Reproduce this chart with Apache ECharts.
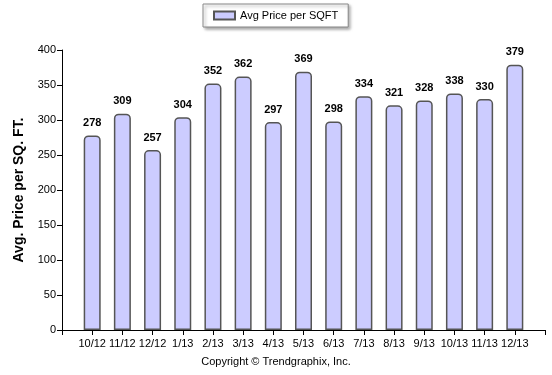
<!DOCTYPE html>
<html><head><meta charset="utf-8">
<script src="https://cdn.jsdelivr.net/npm/echarts@6/dist/echarts.min.js"></script>
<style>html,body{margin:0;padding:0;background:#fff}#c{width:552px;height:375px}</style>
</head><body><div id="c"></div>
<script>
const categories = ['10/12','11/12','12/12','1/13','2/13','3/13','4/13','5/13','6/13','7/13','8/13','9/13','10/13','11/13','12/13'];
const values = [278,309,257,304,352,362,297,369,298,334,321,328,338,330,379];
const seriesName = 'Avg Price per SQFT';

const cats = [''].concat(categories, ['']);
const vals = [null].concat(values, [null]);
const font = '"Liberation Sans", Arial, sans-serif';

const chart = echarts.init(document.getElementById('c'));
chart.setOption({
  animation: false,
  textStyle: { fontFamily: font },
  grid: { left: 62, right: 7, top: 50, bottom: 45, containLabel: false },
  legend: {
    data: [seriesName], top: 4, left: 203,
    padding: [6, 10, 6, 10],
    borderColor: '#888', borderWidth: 1, backgroundColor: '#fff',
    shadowColor: 'rgba(0,0,0,0.35)', shadowBlur: 3, shadowOffsetX: 2, shadowOffsetY: 2,
    itemWidth: 21, itemHeight: 8, itemGap: 5,
    icon: 'rect',
    textStyle: { fontSize: 11, color: '#000', fontFamily: font }
  },
  title: {
    text: 'Copyright © Trendgraphix, Inc.', left: 'center', top: 351,
    textStyle: { fontSize: 11, fontWeight: 'normal', color: '#000', fontFamily: font }
  },
  xAxis: {
    type: 'category', data: cats, boundaryGap: false,
    axisLine: { lineStyle: { color: '#000', width: 1 } },
    axisTick: { show: true, length: 5, lineStyle: { color: '#000' }, interval: 0 },
    axisLabel: { interval: 0, color: '#000', fontSize: 11, margin: 8, fontFamily: font },
    splitLine: { show: false }
  },
  yAxis: {
    type: 'value', min: 0, max: 400, interval: 50,
    name: 'Avg. Price per SQ. FT.', nameLocation: 'middle', nameGap: 36,
    nameTextStyle: { fontSize: 14, fontWeight: 'bold', color: '#000', fontFamily: font },
    axisLine: { show: true, lineStyle: { color: '#000', width: 1 } },
    axisTick: { show: true, length: 5, lineStyle: { color: '#000' } },
    axisLabel: { color: '#000', fontSize: 11, margin: 6, fontFamily: font },
    splitLine: { show: false }
  },
  series: [{
    name: seriesName, type: 'bar', data: vals, barWidth: 17,
    itemStyle: { color: '#ccccff', borderColor: '#555', borderWidth: 1.5, borderRadius: [4, 4, 0, 0] },
    label: { show: true, position: 'top', distance: 7, color: '#000', fontWeight: 'bold', fontSize: 11, fontFamily: font }
  }]
});
</script></body></html>
